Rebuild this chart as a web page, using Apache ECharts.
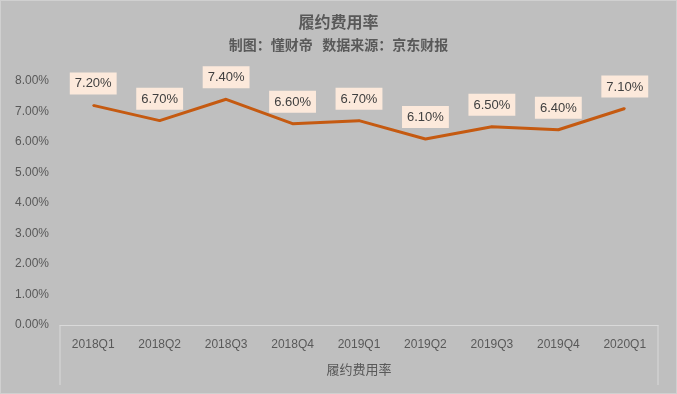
<!DOCTYPE html>
<html><head><meta charset="utf-8">
<script src="https://cdn.jsdelivr.net/npm/echarts@6/dist/echarts.min.js"></script>
<style>html,body{margin:0;padding:0;background:#bfbfbf;}#c{width:677px;height:394px;box-sizing:border-box;border:1px solid #d0d0d0;}</style>
</head><body><div id="c"></div>
<script>
const categories = ['2018Q1','2018Q2','2018Q3','2018Q4','2019Q1','2019Q2','2019Q3','2019Q4','2020Q1'];
const values = [7.2, 6.7, 7.4, 6.6, 6.7, 6.1, 6.5, 6.4, 7.1];
const seriesName = '履约费用率';
const titleText = '履约费用率';
const subtitleText = '制图：懂财帝   数据来源：京东财报';

const G = {left: 59, right: 18, top: 80, bottom: 68};
const chart = echarts.init(document.getElementById('c'));
const W = 675, H = 392;
chart.setOption({
  backgroundColor: '#bfbfbf',
  animation: false,
  textStyle: {fontFamily: 'Noto Sans CJK SC'},
  title: {
    text: titleText, subtext: subtitleText, left: 'center', top: 8, itemGap: 8,
    textStyle: {fontSize: 16, fontWeight: 'bold', color: '#595959', fontFamily: 'Noto Sans CJK SC'},
    subtextStyle: {fontSize: 14, fontWeight: 'bold', color: '#595959', fontFamily: 'Noto Sans CJK SC'}
  },
  grid: G,
  xAxis: {
    type: 'category', data: categories, boundaryGap: true,
    name: seriesName, nameLocation: 'middle', nameGap: 38,
    nameTextStyle: {fontSize: 13, color: '#595959'},
    axisLine: {lineStyle: {color: '#d9d9d9', width: 1}},
    axisTick: {show: false},
    axisLabel: {color: '#595959', fontSize: 12, margin: 14, fontFamily: 'Liberation Sans'}
  },
  yAxis: {
    type: 'value', min: 0, max: 8, interval: 1,
    axisLine: {show: false}, axisTick: {show: false}, splitLine: {show: false},
    axisLabel: {color: '#595959', fontSize: 12, margin: 11, fontFamily: 'Liberation Sans',
      formatter: v => v.toFixed(2) + '%'}
  },
  graphic: [
    {type: 'line', shape: {x1: G.left, y1: H - G.bottom, x2: G.left, y2: H - G.bottom + 60}, style: {stroke: '#d9d9d9', lineWidth: 1}},
    {type: 'line', shape: {x1: W - G.right, y1: H - G.bottom, x2: W - G.right, y2: H - G.bottom + 60}, style: {stroke: '#d9d9d9', lineWidth: 1}}
  ],
  series: [{
    name: seriesName, type: 'line', data: values, symbol: 'circle', symbolSize: 2, showSymbol: true,
    itemStyle: {color: '#c55a11'},
    lineStyle: {color: '#c55a11', width: 3},
    label: {
      show: true, position: 'top', distance: 10,
      formatter: function (p) { return Number(p.value).toFixed(2) + '%'; },
      color: '#404040', fontSize: 13, fontFamily: 'Liberation Sans',
      backgroundColor: '#fce9db', padding: [5, 5, 4, 5]
    }
  }]
});
</script></body></html>
